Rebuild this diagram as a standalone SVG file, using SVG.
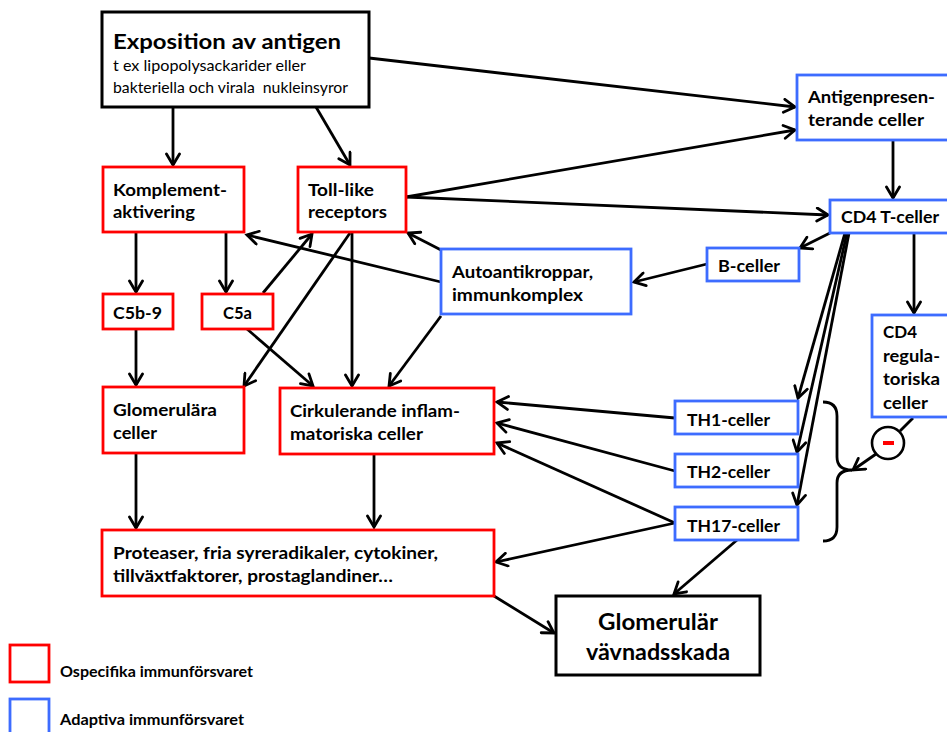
<svg xmlns="http://www.w3.org/2000/svg" width="947" height="732" viewBox="0 0 947 732">
<defs>
<marker id="ah" markerUnits="userSpaceOnUse" markerWidth="16" markerHeight="16" viewBox="0 0 16 16" refX="13" refY="8" orient="auto">
<path d="M2,1.5 L13,8 L2,14.5" fill="none" stroke="#000" stroke-width="2.8" stroke-linecap="round" stroke-linejoin="miter"/>
</marker>
<style>
.r{fill:#fff;stroke:#ff0000;stroke-width:2.8}
.b{fill:#fff;stroke:#3d6cff;stroke-width:2.8}
.k{fill:#fff;stroke:#000;stroke-width:3}
.t{font-family:Lato,"Liberation Sans",sans-serif;font-weight:bold;font-size:17.5px;fill:#000}
.s{font-family:Lato,"Liberation Sans",sans-serif;font-size:15px;fill:#000}
.c line,.c path{stroke:#000;stroke-width:2.8;fill:none}
.c .a{marker-end:url(#ah)}
</style>
</defs>
<rect width="947" height="732" fill="#fff"/>

<g class="c" id="connectors">
<line class="a" x1="173" y1="107" x2="173" y2="165"/>
<line class="a" x1="316" y1="107" x2="350" y2="165"/>
<line class="a" x1="369" y1="58" x2="795" y2="107"/>
<line class="a" x1="406" y1="197" x2="795" y2="130"/>
<line class="a" x1="406" y1="197" x2="828" y2="215"/>
<line class="a" x1="893" y1="140" x2="893" y2="198"/>
<line class="a" x1="830" y1="233" x2="800" y2="248"/>
<line class="a" x1="707" y1="264" x2="634" y2="282"/>
<line class="a" x1="441" y1="250" x2="408" y2="233"/>
<line class="a" x1="441" y1="282" x2="247" y2="235"/>
<line class="a" x1="441" y1="316" x2="389" y2="386"/>
<line class="a" x1="136" y1="232" x2="136" y2="292"/>
<line class="a" x1="226" y1="232" x2="226" y2="292"/>
<line class="a" x1="263" y1="293" x2="312" y2="234"/>
<line class="a" x1="350" y1="233" x2="244" y2="386"/>
<line class="a" x1="352" y1="233" x2="352" y2="386"/>
<line class="a" x1="247" y1="329" x2="313" y2="386"/>
<line class="a" x1="136" y1="329" x2="136" y2="385"/>
<line class="a" x1="136" y1="454" x2="136" y2="528"/>
<line class="a" x1="374" y1="455" x2="374" y2="527"/>
<line class="a" x1="494" y1="596" x2="554" y2="633"/>
<line class="a" x1="737" y1="540" x2="674" y2="594"/>
<line class="a" x1="675" y1="418" x2="497" y2="402"/>
<line class="a" x1="675" y1="471" x2="497" y2="423"/>
<line class="a" x1="675" y1="523" x2="497" y2="443"/>
<line class="a" x1="675" y1="523" x2="496" y2="562"/>
<line class="a" x1="845" y1="233" x2="798" y2="398"/>
<line class="a" x1="847" y1="233" x2="797" y2="452"/>
<line class="a" x1="849" y1="233" x2="797" y2="505"/>
<line class="a" x1="914" y1="233" x2="914" y2="313"/>
<line x1="913" y1="418" x2="900" y2="431"/>
<line class="a" x1="876" y1="454" x2="853" y2="470"/>
<path d="M823,402 Q837,402 837,416 L837,457 Q837,470 852,470 Q837,470 837,483 L837,527 Q837,541 823,541"/>
</g>

<g id="exposition">
<rect class="k" x="102" y="12" width="267" height="95"/>
<text class="t" x="113" y="49" style="font-size:21.5px" textLength="228" lengthAdjust="spacingAndGlyphs">Exposition av antigen</text>
<text class="s" x="113" y="71" textLength="193" lengthAdjust="spacingAndGlyphs">t ex lipopolysackarider eller</text>
<text class="s" x="113" y="93" textLength="235" lengthAdjust="spacingAndGlyphs" xml:space="preserve">bakteriella och virala  nukleinsyror</text>
</g>

<g id="antigenpresenterande">
<rect class="b" x="797" y="75" width="155" height="65"/>
<text class="t" x="808" y="103" textLength="127" lengthAdjust="spacingAndGlyphs">Antigenpresen-</text>
<text class="t" x="808" y="126" textLength="116" lengthAdjust="spacingAndGlyphs">terande celler</text>
</g>

<g id="cd4t">
<rect class="b" x="830" y="200" width="122" height="33"/>
<text class="t" x="841" y="223" textLength="98" lengthAdjust="spacingAndGlyphs">CD4 T-celler</text>
</g>

<g id="bceller">
<rect class="b" x="707" y="248" width="92" height="33"/>
<text class="t" x="718" y="272" textLength="62" lengthAdjust="spacingAndGlyphs">B-celler</text>
</g>

<g id="autoantikroppar">
<rect class="b" x="441" y="249" width="190" height="65"/>
<text class="t" x="452" y="278" textLength="141" lengthAdjust="spacingAndGlyphs">Autoantikroppar,</text>
<text class="t" x="452" y="301" textLength="131" lengthAdjust="spacingAndGlyphs">immunkomplex</text>
</g>

<g id="komplement">
<rect class="r" x="103" y="167" width="141" height="65"/>
<text class="t" x="113" y="196" textLength="114" lengthAdjust="spacingAndGlyphs">Komplement-</text>
<text class="t" x="113" y="218" textLength="82" lengthAdjust="spacingAndGlyphs">aktivering</text>
</g>

<g id="tolllike">
<rect class="r" x="298" y="167" width="108" height="65"/>
<text class="t" x="308" y="196" textLength="66" lengthAdjust="spacingAndGlyphs">Toll-like</text>
<text class="t" x="308" y="218" textLength="79" lengthAdjust="spacingAndGlyphs">receptors</text>
</g>

<g id="c5b9">
<rect class="r" x="103" y="294" width="70" height="35"/>
<text class="t" x="113" y="319" textLength="49" lengthAdjust="spacingAndGlyphs">C5b-9</text>
</g>

<g id="c5a">
<rect class="r" x="202" y="294" width="71" height="35"/>
<text class="t" x="223" y="319" textLength="29" lengthAdjust="spacingAndGlyphs">C5a</text>
</g>

<g id="glomerulara">
<rect class="r" x="103" y="387" width="141" height="66"/>
<text class="t" x="113" y="416" textLength="104" lengthAdjust="spacingAndGlyphs">Glomerulära</text>
<text class="t" x="113" y="439" textLength="44" lengthAdjust="spacingAndGlyphs">celler</text>
</g>

<g id="cirkulerande">
<rect class="r" x="280" y="388" width="214" height="66"/>
<text class="t" x="290" y="417" textLength="170" lengthAdjust="spacingAndGlyphs">Cirkulerande inflam-</text>
<text class="t" x="290" y="440" textLength="133" lengthAdjust="spacingAndGlyphs">matoriska celler</text>
</g>

<g id="proteaser">
<rect class="r" x="102" y="530" width="392" height="66"/>
<text class="t" x="113" y="559" textLength="325" lengthAdjust="spacingAndGlyphs">Proteaser, fria syreradikaler, cytokiner,</text>
<text class="t" x="113" y="582" textLength="280" lengthAdjust="spacingAndGlyphs">tillväxtfaktorer, prostaglandiner…</text>
</g>

<g id="th1">
<rect class="b" x="675" y="401" width="123" height="33"/>
<text class="t" x="687" y="426" textLength="83" lengthAdjust="spacingAndGlyphs">TH1-celler</text>
</g>

<g id="th2">
<rect class="b" x="675" y="454" width="123" height="33"/>
<text class="t" x="687" y="478" textLength="83" lengthAdjust="spacingAndGlyphs">TH2-celler</text>
</g>

<g id="th17">
<rect class="b" x="675" y="507" width="123" height="33"/>
<text class="t" x="687" y="532" textLength="93" lengthAdjust="spacingAndGlyphs">TH17-celler</text>
</g>

<g id="cd4reg">
<rect class="b" x="872" y="315" width="80" height="102"/>
<text class="t" x="883" y="338" textLength="34" lengthAdjust="spacingAndGlyphs">CD4</text>
<text class="t" x="883" y="362" textLength="57" lengthAdjust="spacingAndGlyphs">regula-</text>
<text class="t" x="883" y="385" textLength="57" lengthAdjust="spacingAndGlyphs">toriska</text>
<text class="t" x="883" y="409" textLength="45" lengthAdjust="spacingAndGlyphs">celler</text>
</g>

<g id="inhibition">
<circle cx="888" cy="443" r="16" fill="#fff" stroke="#000" stroke-width="2.6"/>
<rect x="883" y="441" width="11" height="4" fill="#ff0000"/>
</g>

<g id="glomerular-skada">
<rect class="k" x="556" y="596" width="204" height="79"/>
<text class="t" x="658" y="630" style="font-size:23.5px" text-anchor="middle" textLength="120" lengthAdjust="spacingAndGlyphs">Glomerulär</text>
<text class="t" x="658" y="660" style="font-size:23.5px" text-anchor="middle" textLength="144" lengthAdjust="spacingAndGlyphs">vävnadsskada</text>
</g>

<g id="legend">
<rect class="r" x="10" y="645" width="39" height="37"/>
<text class="t" x="60" y="677" style="font-size:14.5px" textLength="193" lengthAdjust="spacingAndGlyphs">Ospecifika immunförsvaret</text>
<rect class="b" x="10" y="699" width="39" height="45"/>
<text class="t" x="60" y="725" style="font-size:14.5px" textLength="184" lengthAdjust="spacingAndGlyphs">Adaptiva immunförsvaret</text>
</g>
</svg>
